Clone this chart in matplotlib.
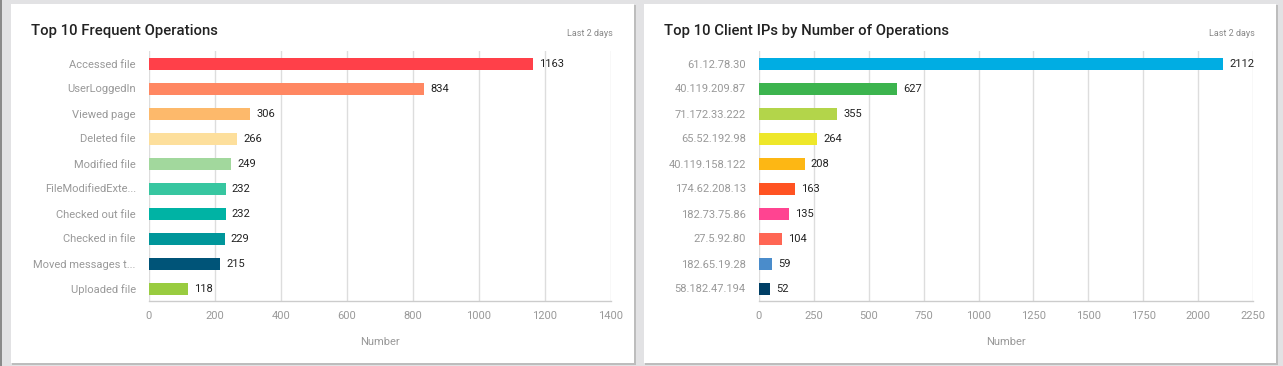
import matplotlib
matplotlib.use("Agg")
import matplotlib.pyplot as plt
from matplotlib.patches import Rectangle

plt.rcParams['font.family'] = ['Roboto', 'DejaVu Sans']

# ---- data ----
ops_labels = ["Accessed file", "UserLoggedIn", "Viewed page", "Deleted file", "Modified file",
              "FileModifiedExte...", "Checked out file", "Checked in file", "Moved messages t...",
              "Uploaded file"]
ops_values = [1163, 834, 306, 266, 249, 232, 232, 229, 215, 118]
ops_colors = ["#ff4049", "#ff8762", "#fdb96b", "#fddf9c", "#a2d89d",
              "#37c6a0", "#00b3a4", "#00969a", "#005478", "#99cc40"]
ops_ticks = [0, 200, 400, 600, 800, 1000, 1200, 1400]

ip_labels = ["61.12.78.30", "40.119.209.87", "71.172.33.222", "65.52.192.98", "40.119.158.122",
             "174.62.208.13", "182.73.75.86", "27.5.92.80", "182.65.19.28", "58.182.47.194"]
ip_values = [2112, 627, 355, 264, 208, 163, 135, 104, 59, 52]
ip_colors = ["#00ade3", "#3cb44e", "#b3d54a", "#eee72a", "#fdb714",
             "#ff5322", "#ff4491", "#ff6654", "#4a8ccb", "#003f66"]
ip_ticks = [0, 250, 500, 750, 1000, 1250, 1500, 1750, 2000, 2250]

titles = ["Top 10 Frequent Operations", "Top 10 Client IPs by Number of Operations"]
subtitle = "Last 2 days"
xlabel = "Number"

W, H = 1283, 366
fig = plt.figure(figsize=(W / 100, H / 100), dpi=100)
fig.patch.set_facecolor("#e2e2e4")

def px_rect(x0, y0, x1, y1, color, z):
    fig.patches.append(Rectangle((x0 / W, 1 - y1 / H), (x1 - x0) / W, (y1 - y0) / H,
                                 transform=fig.transFigure, facecolor=color,
                                 edgecolor="none", zorder=z))

# panels (shadow + white card)
for (x0, x1) in [(11, 634), (644, 1276)]:
    px_rect(x0 + 1, 5, x1 + 2, 365, "#bdbdbd", 0)
    px_rect(x0, 4, x1, 363, "#ffffff", 1)
px_rect(0, 0, 2, 366, "#8a8a8a", 1)

panels = [
    dict(labels=ops_labels, values=ops_values, colors=ops_colors, ticks=ops_ticks,
         ax_x0=149, ax_x1=611, title_x=31, sub_x=613, title=titles[0]),
    dict(labels=ip_labels, values=ip_values, colors=ip_colors, ticks=ip_ticks,
         ax_x0=759, ax_x1=1253, title_x=664, sub_x=1255, title=titles[1]),
]

ay0, ay1 = 51, 301
for p in panels:
    ax = fig.add_axes([p["ax_x0"] / W, 1 - ay1 / H, (p["ax_x1"] - p["ax_x0"]) / W, (ay1 - ay0) / H])
    ax.set_zorder(2)
    ax.patch.set_alpha(0)
    n = len(p["values"])
    ypos = list(range(n))
    ax.barh(ypos, p["values"], height=0.48, color=p["colors"], zorder=3)
    ax.set_ylim(n - 0.5, -0.5)
    ax.set_xlim(p["ticks"][0], p["ticks"][-1])
    ax.set_xticks(p["ticks"])
    ax.set_xticklabels([str(t) for t in p["ticks"]])
    ax.set_yticks(ypos)
    ax.set_yticklabels(p["labels"])
    ax.grid(axis="x", color="#dddddd", linewidth=1, zorder=0)
    ax.tick_params(axis="both", length=0, colors="#999999", labelsize=8)
    ax.tick_params(axis="y", pad=9.5)
    ax.tick_params(axis="x", pad=7.5)
    for s in ["top", "right", "left"]:
        ax.spines[s].set_visible(False)
    ax.spines["bottom"].set_color("#cccccc")
    ax.spines["bottom"].set_linewidth(1)
    for yv, v in zip(ypos, p["values"]):
        ax.annotate(str(v), (v, yv), xytext=(4.5, -0.5), textcoords="offset points",
                    va="center", ha="left", fontsize=8, color="#222222", zorder=4)
    ax.set_xlabel(xlabel, color="#999999", fontsize=8, labelpad=11.5)
    fig.text(p["title_x"] / W, 1 - 31.5 / H, p["title"], fontsize=10.75, fontweight="medium",
             color="#222222", ha="left", va="center", zorder=5)
    fig.text(p["sub_x"] / W, 1 - 33 / H, subtitle, fontsize=6.5, color="#888888",
             ha="right", va="center", zorder=5)

fig.savefig("out.png", dpi=100, facecolor=fig.get_facecolor())
